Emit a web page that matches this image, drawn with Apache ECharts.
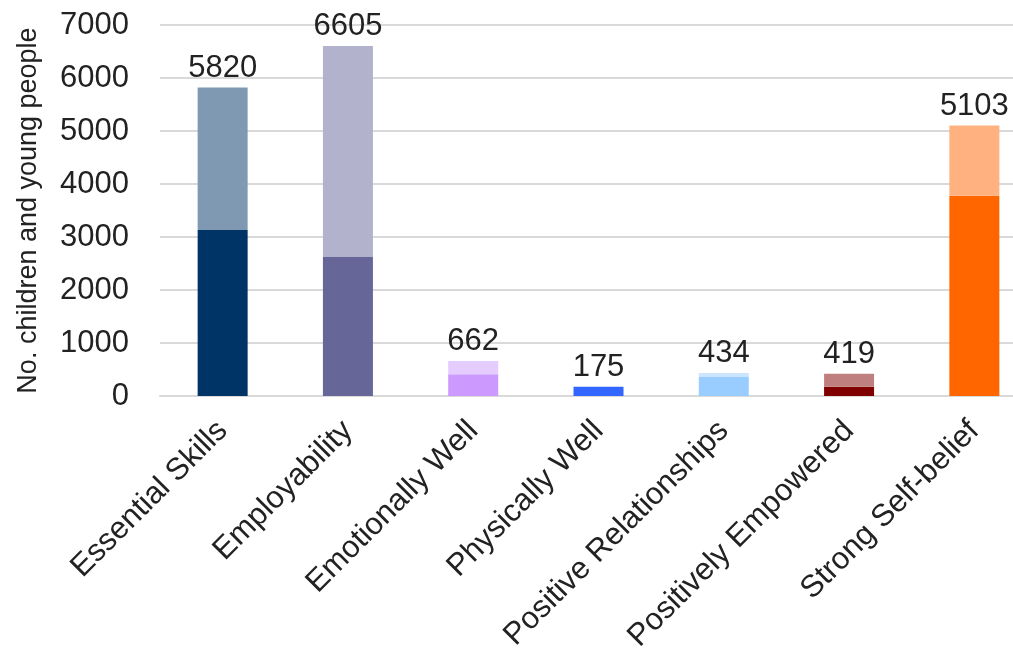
<!DOCTYPE html>
<html><head><meta charset="utf-8">
<script src="https://cdn.jsdelivr.net/npm/echarts@6/dist/echarts.min.js"></script>
<style>html,body{margin:0;padding:0;background:#fff}#c{width:1013px;height:666px}</style>
</head><body><div id="c"></div>
<script>
const categories = ['Essential Skills','Employability','Emotionally Well','Physically Well','Positive Relationships','Positively Empowered','Strong Self-belief'];
const darkValues = [3130, 2630, 410, 175, 370, 175, 3780];
const lightValues = [2690, 3975, 252, 0, 64, 244, 1323];
const totalLabels = ['5820','6605','662','175','434','419','5103'];
const darkColors = ['#003366','#666699','#CC99FF','#3366FF','#99CCFF','#800000','#FF6600'];
const lightColors = ['#7F99B2','#B2B2CC','#E5CCFF','#99B2FF','#CCE5FF','#BF7F7F','#FFB27F'];
const yTicks = [0,1000,2000,3000,4000,5000,6000,7000];

const font = 'Liberation Sans, Arial, sans-serif';
const chart = echarts.init(document.getElementById('c'));
chart.setOption({
  animation:false,
  grid:{left:160,right:-24,top:25,bottom:270,containLabel:false,outerBoundsMode:'none'},
  xAxis:{type:'category',data:categories,
    axisLine:{lineStyle:{color:'#D9D9D9',width:2}},axisTick:{show:false},
    axisLabel:{rotate:45,interval:0,fontSize:31,color:'#222',fontFamily:font,margin:30}},
  yAxis:{type:'value',min:yTicks[0],max:yTicks[yTicks.length-1],interval:1000,
    name:'No. children and young people',nameLocation:'middle',nameGap:118,
    nameTextStyle:{fontSize:27,color:'#222',fontFamily:font},
    axisLine:{show:false},axisTick:{show:false},
    axisLabel:{fontSize:31,color:'#222',fontFamily:font,margin:31,formatter:v=>String(v)},
    splitLine:{lineStyle:{color:'#D9D9D9',width:2}}},
  series:[
    {type:'bar',stack:'s',barWidth:50,
     data:darkValues.map((v,i)=>({value:v,itemStyle:{color:darkColors[i]}}))},
    {type:'bar',stack:'s',barWidth:50,
     data:lightValues.map((v,i)=>({value:v,itemStyle:{color:lightColors[i]}})),
     label:{show:true,position:'top',distance:4,fontSize:31,color:'#222',fontFamily:font,
       formatter:p=>totalLabels[p.dataIndex]}}
  ]
});
</script></body></html>
